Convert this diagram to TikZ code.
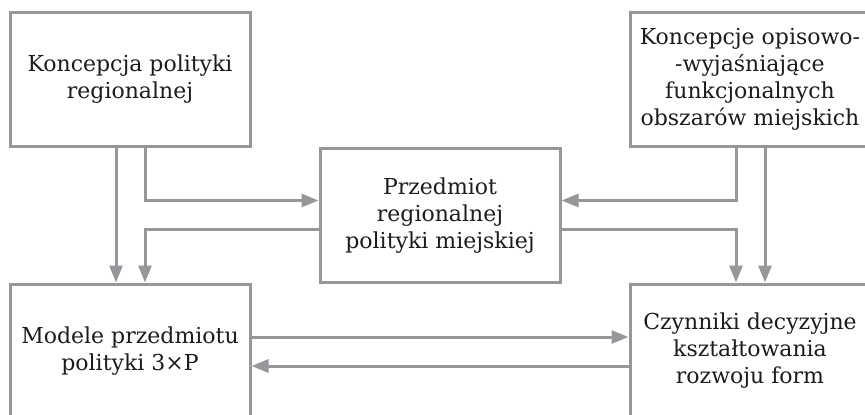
\documentclass[tikz,border=0pt]{standalone}
\usepackage{fontspec}
\setmainfont{DejaVu Serif}
\usetikzlibrary{arrows.meta}
\definecolor{ramka}{RGB}{150,151,155}
\definecolor{tekst}{RGB}{30,27,28}
\tikzset{
  box/.style={draw=ramka, line width=3pt, rectangle, align=center,
    minimum width=240pt, minimum height=134pt, inner sep=0pt,
    text=tekst, font=\fontsize{22}{27}\selectfont},
  conn/.style={draw=ramka, line width=3pt,
    -{Triangle[length=17pt,width=13pt]}}
}
\begin{document}
\begin{tikzpicture}[x=1pt,y=-1pt]
\clip (0,0) rectangle (865,415);
\node[box] (kpr) at (130,79) {Koncepcja polityki\\regionalnej};
\node[box] (kow) at (750,79) {Koncepcje opisowo-\\-wyjaśniające\\funkcjonalnych\\obszarów miejskich};
\node[box] (prpm) at (440,215.5) {Przedmiot\\regionalnej\\polityki miejskiej};
\node[box] (mpp) at (130,351) {Modele przedmiotu\\polityki 3×P};
\node[box] (cdk) at (750,351) {Czynniki decyzyjne\\kształtowania\\rozwoju form};
% strzalki pionowe
\draw[conn] ([xshift=-14pt]kpr.south) -- ([xshift=-14pt]mpp.north);
\draw[conn] ([xshift=15pt]kow.south) -- ([xshift=15pt]cdk.north);
% przez srodek
\draw[conn] ([xshift=15pt]kpr.south) |- ([yshift=15pt]prpm.west);
\draw[conn] ([yshift=-14pt]prpm.west) -| ([xshift=15pt]mpp.north);
\draw[conn] ([xshift=-14pt]kow.south) |- ([yshift=15pt]prpm.east);
\draw[conn] ([yshift=-14pt]prpm.east) -| ([xshift=-14pt]cdk.north);
% dolne
\draw[conn] ([yshift=14pt]mpp.east) -- ([yshift=14pt]cdk.west);
\draw[conn] ([yshift=-15pt]cdk.west) -- ([yshift=-15pt]mpp.east);
\end{tikzpicture}
\end{document}
